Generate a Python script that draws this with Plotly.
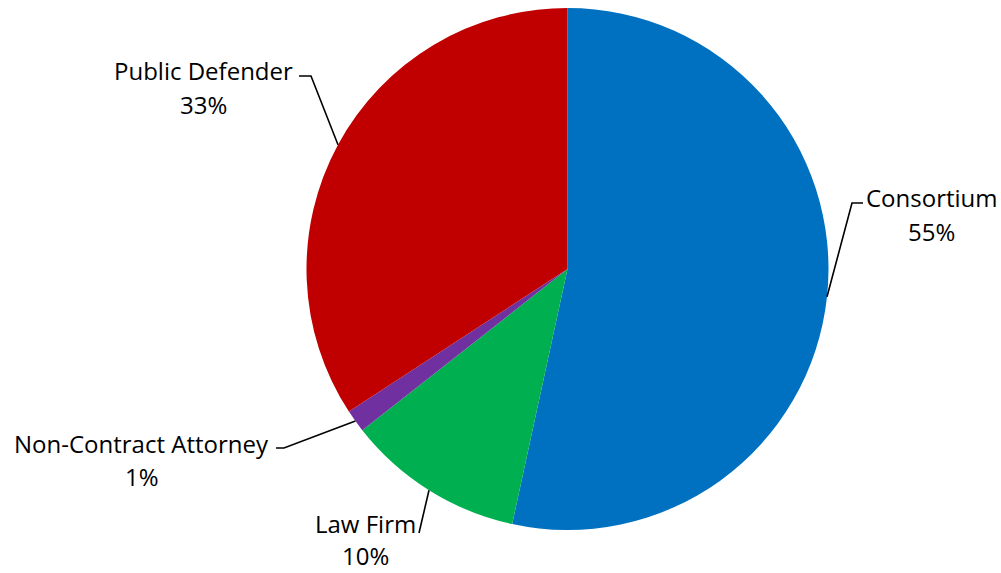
import math
import plotly.graph_objects as go

# ---- data ----
categories = ["Consortium", "Law Firm", "Non-Contract Attorney", "Public Defender"]
shares = [53.4, 11.0, 1.4, 34.2]
pct_labels = ["55%", "10%", "1%", "33%"]
colors = ["#0070C0", "#00B050", "#7030A0", "#C00000"]

# ---- layout constants (pixels) ----
W, H = 1001, 573
CX, CY, R = 567.5, 269.0, 261.0
FONT = "Open Sans"
FS = 24

# label placement: (name center x, name center y, pct center y, knee point, horizontal end or None)
label_pos = {
    "Consortium": dict(tx=931.5, ny=197, py=231, knee=(852, 203), hend=(863, 203)),
    "Law Firm": dict(tx=365, ny=523, py=555, knee=None, hend=(419, 533)),
    "Non-Contract Attorney": dict(tx=141.5, ny=443, py=476, knee=(284, 448), hend=(276, 448)),
    "Public Defender": dict(tx=203, ny=70, py=104, knee=(311, 76), hend=(299, 76)),
}

fig = go.Figure()

fig.add_trace(go.Pie(
    labels=categories, values=shares, sort=False, direction="clockwise", rotation=0,
    marker=dict(colors=colors, line=dict(width=0)),
    textinfo="none", showlegend=False,
    domain=dict(x=[(CX - R) / W, (CX + R) / W], y=[(H - CY - R) / H, (H - CY + R) / H]),
))

# invisible overlay axes in pixel units for leader lines / labels
fig.add_trace(go.Scatter(x=[0, W], y=[0, H], mode="markers", marker=dict(opacity=0),
                         hoverinfo="skip", showlegend=False))

total = sum(shares)
cum = 0.0
for cat, v, pct in zip(categories, shares, pct_labels):
    mid = (cum + v / 2) / total * 2 * math.pi
    cum += v
    ax = CX + R * math.sin(mid)
    ay = CY - R * math.cos(mid)
    p = label_pos[cat]
    pts = [(ax, ay)]
    if p["knee"] is not None:
        pts.append(p["knee"])
    pts.append(p["hend"])
    path = "M " + " L ".join(f"{x:.1f},{y:.1f}" for x, y in pts)
    fig.add_shape(type="path", path=path, xref="x", yref="y",
                  line=dict(color="black", width=1.6))
    fig.add_annotation(x=p["tx"], y=p["ny"], xref="x", yref="y", text=cat, showarrow=False,
                       xanchor="center", yanchor="middle",
                       font=dict(family=FONT, size=FS, color="black"))
    fig.add_annotation(x=p["tx"], y=p["py"], xref="x", yref="y", text=pct, showarrow=False,
                       xanchor="center", yanchor="middle",
                       font=dict(family=FONT, size=FS, color="black"))

fig.update_layout(
    width=W, height=H, margin=dict(l=0, r=0, t=0, b=0),
    paper_bgcolor="white", plot_bgcolor="rgba(0,0,0,0)",
    xaxis=dict(range=[0, W], visible=False, fixedrange=True),
    yaxis=dict(range=[H, 0], visible=False, fixedrange=True),
)

fig.write_html("out.html")
